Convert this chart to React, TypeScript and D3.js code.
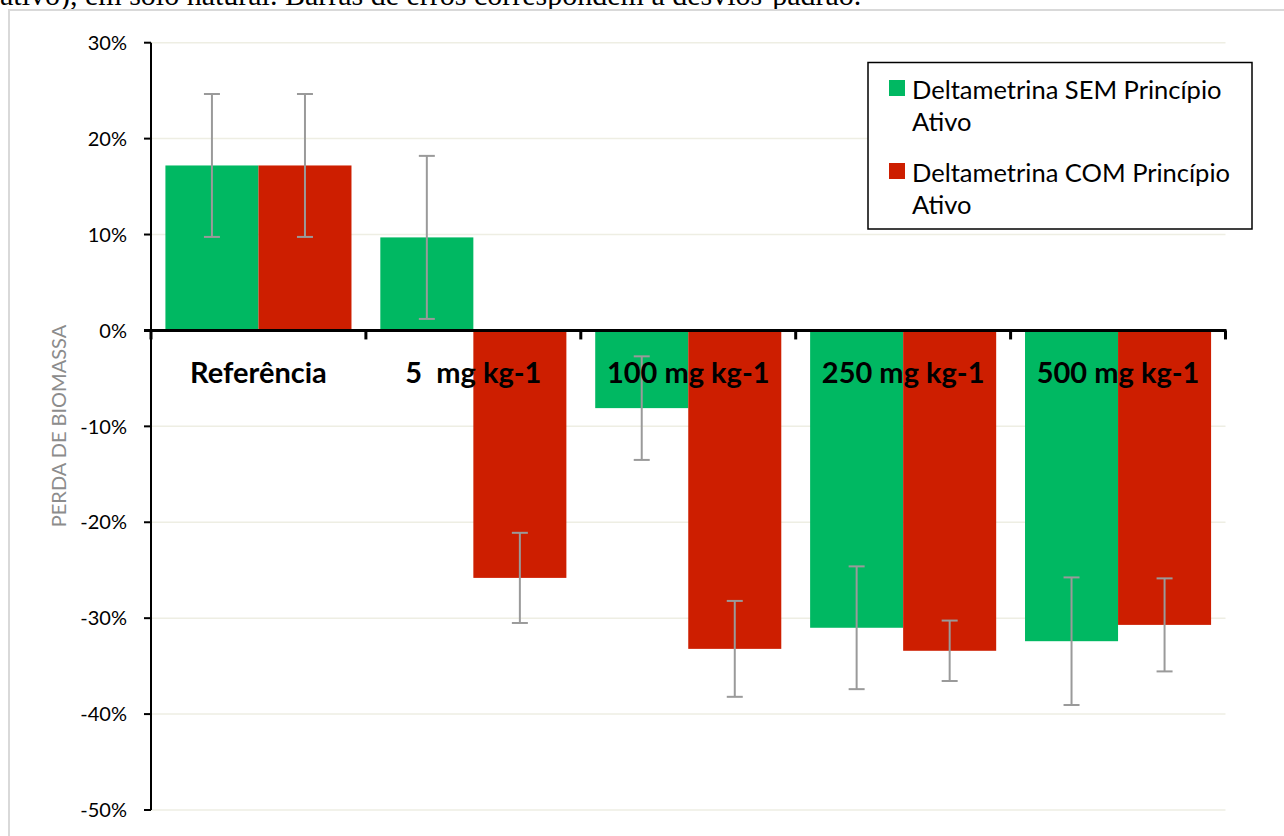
import React from 'react';
import * as d3 from 'd3';

// Treatments along the x axis
const categories = ['Referência', '5  mg kg-1', '100 mg kg-1', '250 mg kg-1', '500 mg kg-1'];
// Biomass loss (%) — deltamethrin without active ingredient
const semValues = [17.2, 9.7, -8.1, -31.0, -32.4];
const semErrors = [7.45, 8.5, 5.4, 6.4, 6.65];
// Biomass loss (%) — deltamethrin with active ingredient
const comValues = [17.2, -25.8, -33.2, -33.4, -30.7];
const comErrors = [7.45, 4.7, 5.0, 3.15, 4.85];

const seriesNames = ['Deltametrina SEM Princípio Ativo', 'Deltametrina COM Princípio Ativo'];
const seriesLegendLines = [
  ['Deltametrina SEM Princípio', 'Ativo'],
  ['Deltametrina COM Princípio', 'Ativo'],
];
const seriesColors = ['#00b862', '#cd1e00'];

const yTicks = [30, 20, 10, 0, -10, -20, -30, -40, -50];
const caption = 'ativo), em solo natural. Barras de erros correspondem a desvios-padrão.';
const yTitle = 'PERDA DE BIOMASSA';

const W = 1284;
const H = 836;
const FONT = 'Lato, "Open Sans", sans-serif';

export default function App() {
  const left = 151;
  const right = 1225.5;
  const y = d3.scaleLinear().domain([-50, 30]).range([810, 42.7]);
  const x0 = d3.scaleBand<string>().domain(categories).range([left, right]).padding(0);
  const x1 = d3
    .scaleBand<string>()
    .domain(seriesNames)
    .range([0, x0.bandwidth()])
    .paddingInner(0)
    .paddingOuter(0.155);

  const series = [
    { name: seriesNames[0], values: semValues, errors: semErrors, color: seriesColors[0] },
    { name: seriesNames[1], values: comValues, errors: comErrors, color: seriesColors[1] },
  ];

  const y0 = y(0);
  const boundaries = d3.range(categories.length + 1).map((i) => left + i * x0.step());

  return (
    <svg
      width={W}
      height={H}
      style={{ position: 'absolute', left: 0, top: 0, background: '#fff' }}
    >
      {/* caption line partly above the frame */}
      <text
        x={0}
        y={5}
        fontFamily='"Liberation Serif", "Times New Roman", serif'
        fontSize={30}
        fill="#000"
      >
        {caption}
      </text>

      {/* chart frame */}
      <rect x={9} y={10} width={W + 20} height={H + 20} fill="#fff" stroke="#d9d9d9" strokeWidth={2} />

      {/* gridlines */}
      {yTicks
        .filter((t) => t !== 0)
        .map((t) => (
          <line key={t} x1={left} x2={right} y1={y(t)} y2={y(t)} stroke="#eeeee3" strokeWidth={1.5} />
        ))}

      {/* bars */}
      {series.map((s) =>
        s.values.map((v, i) => {
          const bx = (x0(categories[i]) as number) + (x1(s.name) as number);
          const top = Math.min(y(v), y0);
          const h = Math.abs(y(v) - y0);
          return <rect key={s.name + i} x={bx} y={top} width={x1.bandwidth()} height={h} fill={s.color} />;
        })
      )}

      {/* error bars */}
      {series.map((s) =>
        s.values.map((v, i) => {
          const cx = (x0(categories[i]) as number) + (x1(s.name) as number) + x1.bandwidth() / 2;
          const hi = y(v + s.errors[i]);
          const lo = y(v - s.errors[i]);
          return (
            <g key={'e' + s.name + i} stroke="#9a9a9a" strokeWidth={2}>
              <line x1={cx} x2={cx} y1={hi} y2={lo} />
              <line x1={cx - 8} x2={cx + 8} y1={hi} y2={hi} />
              <line x1={cx - 8} x2={cx + 8} y1={lo} y2={lo} />
            </g>
          );
        })
      )}

      {/* y axis */}
      <line x1={left} x2={left} y1={y(30)} y2={y(-50)} stroke="#000" strokeWidth={2} />
      {yTicks.map((t) => (
        <g key={'yt' + t}>
          <line x1={left - 7} x2={left} y1={y(t)} y2={y(t)} stroke="#000" strokeWidth={2} />
          <text
            x={127}
            y={y(t)}
            dy="0.36em"
            textAnchor="end"
            fontFamily={FONT}
            fontSize={20}
            fill="#000"
          >
            {`${t}%`}
          </text>
        </g>
      ))}

      {/* x axis at zero */}
      <line x1={left - 7} x2={right + 1} y1={y0} y2={y0} stroke="#000" strokeWidth={3} />
      {boundaries.map((bx, i) => (
        <line key={'xt' + i} x1={bx} x2={bx} y1={y0} y2={y0 + 9} stroke="#000" strokeWidth={3} />
      ))}
      {categories.map((c) => (
        <text
          key={c}
          x={(x0(c) as number) + x0.bandwidth() / 2}
          y={383}
          textAnchor="middle"
          fontFamily={FONT}
          fontWeight={700}
          fontSize={29}
          fill="#000"
          style={{ whiteSpace: 'pre' }}
        >
          {c}
        </text>
      ))}

      {/* y axis title */}
      <text
        transform={`translate(66, 426) rotate(-90)`}
        textAnchor="middle"
        fontFamily={FONT}
        fontSize={20}
        fill="#8c8c8c"
      >
        {yTitle}
      </text>

      {/* legend */}
      <rect x={868} y={62.5} width={384} height={166.5} fill="#fff" stroke="#000" strokeWidth={1.5} />
      {seriesLegendLines.map((lines, i) => (
        <g key={'lg' + i}>
          <rect x={889} y={80 + i * 83} width={16} height={16} fill={seriesColors[i]} />
          {lines.map((ln, j) => (
            <text
              key={j}
              x={912}
              y={99 + i * 83 + j * 31.5}
              fontFamily={FONT}
              fontSize={25.5}
              fill="#000"
            >
              {ln}
            </text>
          ))}
        </g>
      ))}
    </svg>
  );
}
